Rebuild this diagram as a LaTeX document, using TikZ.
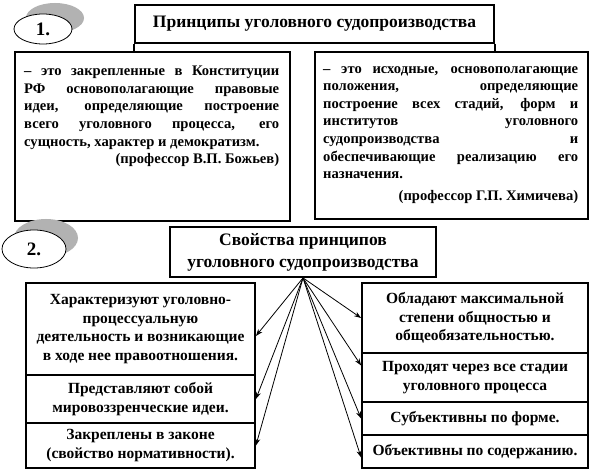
\documentclass[tikz,border=0pt]{standalone}
\usepackage{fontspec}
\setmainfont{Liberation Serif}
\usetikzlibrary{arrows.meta,shapes.geometric}
\newcommand{\jl}[1]{\makebox[255bp][s]{#1}}
\newcommand{\rl}[1]{\makebox[255bp][r]{#1}}
\newcommand{\nl}[1]{\makebox[255bp][l]{#1}}
\begin{document}
\begin{tikzpicture}[x=1bp,y=-1bp,
  bx/.style={draw, line width=1.8bp, inner sep=0pt, align=center},
  ttl/.style={font=\bfseries\fontsize{17.5bp}{22bp}\selectfont},
  stk/.style={font=\bfseries\fontsize{15.5bp}{18.5bp}\selectfont},
  deftxt/.style={anchor=north west, inner sep=0pt, align=left, font=\bfseries\fontsize{14.6bp}{17.6bp}\selectfont},
  oval/.style={ellipse, draw, line width=0.8bp, fill=white, inner sep=0pt, font=\bfseries\fontsize{19bp}{21bp}\selectfont},
  shad/.style={ellipse, fill=black!30, inner sep=0pt},
  arr/.style={line width=0.8bp, -{Stealth[length=7bp,width=5bp]}}
]
\useasboundingbox (0,0) rectangle (595,474);
\fill[white] (0,0) rectangle (595,474);

% section 1
\node[shad, minimum width=58bp, minimum height=30bp] (e1s) at (55,18) {};
\node[oval, minimum width=58bp, minimum height=30bp] (e1) at (43,29) {1.};
\node[bx, ttl, minimum width=359bp, minimum height=38bp] (t1) at (314.5,24) {Принципы уголовного судопроизводства};
\node[bx, minimum width=275bp, minimum height=169bp] (d1) at (152.5,136.5) {};
\node[bx, minimum width=273bp, minimum height=167bp] (d2) at (451.5,135.5) {};
\draw[line width=1.8bp] (t1.south west) -- (t1.south west |- d1.north);
\draw[line width=1.8bp] (t1.south east) -- (t1.south east |- d2.north);
\node[deftxt] (d1t) at (24,66) {\jl{– это закрепленные в Конституции}\\
\jl{РФ основополагающие правовые}\\
\jl{идеи, определяющие построение}\\
\jl{всего уголовного процесса, его}\\
\nl{сущность, характер и демократизм.}\\
\rl{(профессор В.П. Божьев)}};
\node[deftxt] (d2t) at (323,66) {\jl{– это исходные, основополагающие}\\
\jl{положения, определяющие}\\
\jl{построение всех стадий, форм и}\\
\jl{институтов уголовного}\\
\jl{судопроизводства и}\\
\jl{обеспечивающие реализацию его}\\
\nl{назначения.}\\[4bp]
\rl{(профессор Г.П. Химичева)}};

% section 2
\node[shad, minimum width=64bp, minimum height=38bp] (e2s) at (46,238) {};
\node[oval, minimum width=64bp, minimum height=38bp] (e2) at (34,249) {2.};
\node[bx, ttl, minimum width=266bp, minimum height=50bp] (t2) at (303,252) {Свойства принципов\\уголовного судопроизводства};

\node[bx, stk, minimum width=229bp, minimum height=92bp] (l1) at (140.5,329) {Характеризуют уголовно-\\процессуальную\\деятельность и возникающие\\в ходе нее правоотношения.};
\node[bx, stk, minimum width=229bp, minimum height=48bp] (l2) at (140.5,399) {Представляют собой\\мировоззренческие идеи.};
\node[bx, stk, minimum width=229bp, minimum height=45bp] (l3) at (140.5,445.5) {Закреплены в законе\\(свойство нормативности).};

\node[bx, stk, minimum width=226bp, minimum height=70bp] (r1) at (475,318) {Обладают максимальной\\степени общностью и\\общеобязательностью.};
\node[bx, stk, minimum width=226bp, minimum height=49bp] (r2) at (475,377.5) {Проходят через все стадии\\уголовного процесса};
\node[bx, stk, minimum width=226bp, minimum height=33bp] (r3) at (475,418.5) {Субъективны по форме.};
\node[bx, stk, minimum width=226bp, minimum height=33bp] (r4) at (475,451.5) {Объективны по содержанию.};

\draw[arr] (t2.south) -- ([yshift=-7bp]l1.east);
\draw[arr] (t2.south) -- (l2.east);
\draw[arr] (t2.south) -- (l3.east);
\draw[arr] (t2.south) -- (r1.west);
\draw[arr] (t2.south) -- ([yshift=12bp]r2.west);
\draw[arr] (t2.south) -- (r3.west);
\draw[arr] (t2.south) -- ([yshift=-6bp]r4.west);
\end{tikzpicture}
\end{document}
